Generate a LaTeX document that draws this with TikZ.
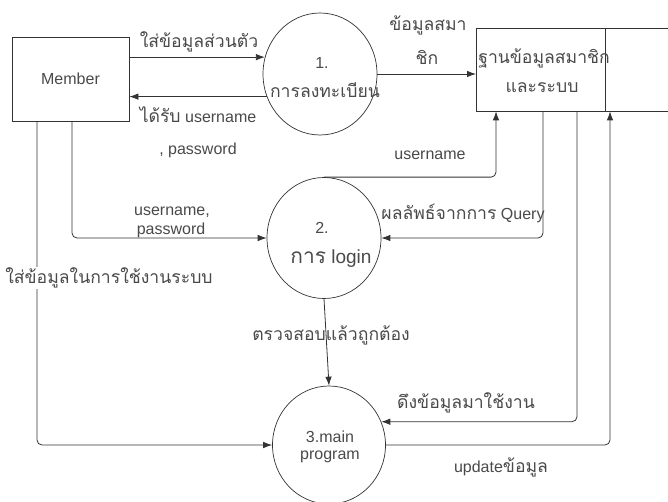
\documentclass[tikz,border=0pt]{standalone}
\usepackage{fontspec}
\setmainfont{Liberation Sans}
\newfontfamily\thaitxt[Script=Thai,Scale=1.1]{Loma}
\usetikzlibrary{arrows.meta,shapes.geometric}
\definecolor{linecol}{HTML}{333333}
\definecolor{txtcol}{HTML}{4A4A4A}
\newcommand{\dfdfont}{\fontsize{16}{19}\selectfont}
\newcommand{\bigdfdfont}{\fontsize{19}{22}\selectfont}

\begin{document}
\begin{tikzpicture}[x=1pt,y=-1pt,
  line/.style={draw=linecol, line width=0.8pt},
  flow/.style={line, rounded corners=5pt, -{Latex[length=9pt,width=6.5pt]}},
  bubble/.style={ellipse, draw=linecol, line width=0.7pt, inner sep=0pt},
  entity/.style={rectangle, draw=linecol, line width=0.8pt, text=txtcol, font=\dfdfont},
  lbl/.style={text=txtcol, inner sep=1pt, font=\dfdfont},
]
\useasboundingbox[fill=white] (0,0) rectangle (668,502);

% external entity
\node[entity, minimum width=117pt, minimum height=84pt] (member) at (70.5,79) {Member};

% processes
\node[bubble, minimum width=114pt, minimum height=122pt] (c1) at (320,74) {};
\node[bubble, minimum width=114pt, minimum height=121pt] (c2) at (324,238) {};
\node[bubble, minimum width=113pt, minimum height=118pt] (c3) at (329,445) {};
\node[lbl] (c1num) at (322,63) {1.};
\node[lbl] (c1txt) at (325,90) {\thaitxt การลงทะเบียน};
\node[lbl] (c2num) at (322,228) {2.};
\node[lbl, font=\bigdfdfont] (c2txt) at (331,259) {{\thaitxt การ} login};
\node[lbl] (c3num) at (330,437) {3.main};
\node[lbl] (c3txt) at (330,457) {program};

% data store (open on the right)
\node[minimum width=192pt, minimum height=83pt, anchor=north west, inner sep=0pt] (store) at (476,28) {};
\draw[line] (store.north east) -- (store.north west) -- (store.south west) -- (store.south east);
\draw[line] (store.north west -| 605,0) -- (store.south west -| 605,0);
\node[lbl] (storetxt1) at (544,58) {\thaitxt ฐานข้อมูลสมาชิก};
\node[lbl] (storetxt2) at (542,88) {\thaitxt และระบบ};

% registration flows
\draw[flow] (member.east |- c1.163) -- (c1.163);
\draw[flow] (c1.203) -- (member.east |- c1.203);
\draw[flow] (c1.east) -- (store.west |- c1.east);
\node[lbl] (l1) at (199,42) {\thaitxt ใส่ข้อมูลส่วนตัว};
\node[lbl] (l2) at (198,115) {{\thaitxt ได้รับ} username};
\node[lbl] (l3) at (198,150) {, password};
\node[lbl] (l4) at (428,25) {\thaitxt ข้อมูลสมา};
\node[lbl] (l5) at (427,57) {\thaitxt ชิก};

% login flows
\draw[flow] (member.south -| 72,0) |- (c2.west);
\draw[flow] (c2.north) -| (store.south -| 496,0);
\draw[flow] (store.south -| 543,0) |- (c2.east);
\draw[flow] (c2.south) -- (c3.north);
\node[lbl] (l6) at (172,212) {username,};
\node[lbl] (l7) at (171,230) {password};
\node[lbl] (l8) at (430,155) {username};
\node[lbl] (l9) at (463,213) {{\thaitxt ผลลัพธ์จากการ} Query};
\node[lbl] (l10) at (331,335) {\thaitxt ตรวจสอบแล้วถูกต้อง};

% main program flows
\draw[flow] (member.south -| 37,0) |- (c3.west);
\draw[flow] (store.south -| 577,0) |- (c3.24);
\draw[flow] (c3.east) -| (store.south -| 610,0);
\node[lbl, fill=white] (l11) at (109,278) {\thaitxt ใส่ข้อมูลในการใช้งานระบบ};
\node[lbl] (l12) at (466,403) {\thaitxt ดึงข้อมูลมาใช้งาน};
\node[lbl] (l13) at (501,467) {update{\thaitxt ข้อมูล}};
\end{tikzpicture}
\end{document}
